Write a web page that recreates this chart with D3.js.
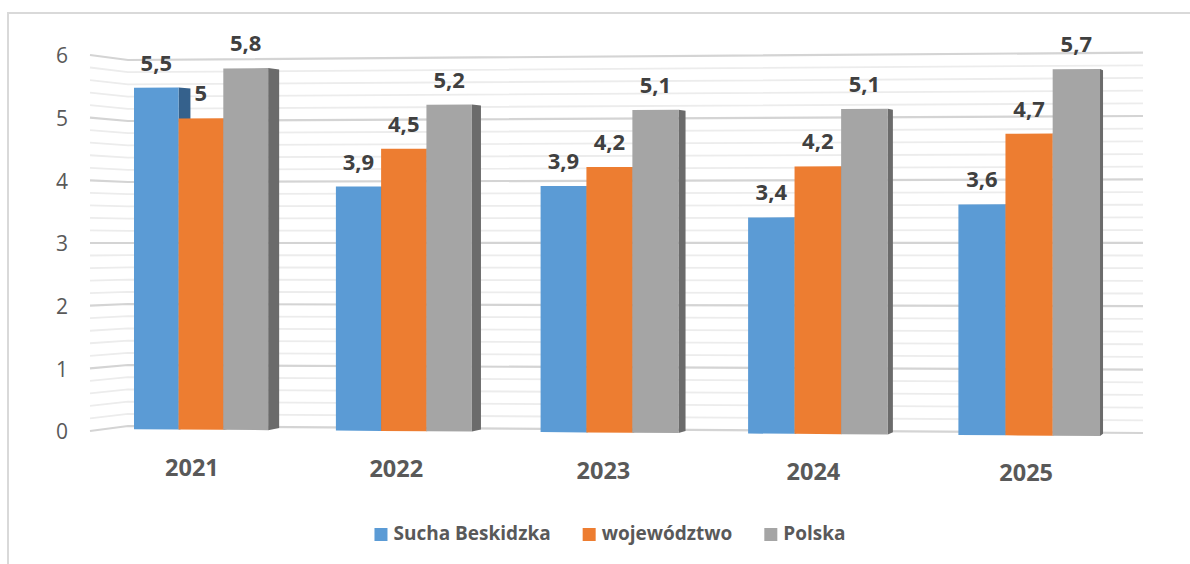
<!DOCTYPE html>
<html><head><meta charset="utf-8">
<script src="https://cdn.jsdelivr.net/npm/d3@7"></script>
<style>
html,body{margin:0;padding:0;background:#fff;}
svg{display:block;font-family:"Open Sans",sans-serif;}
</style></head>
<body><svg id="c" width="1190" height="564"></svg>
<script>
const years = ["2021","2022","2023","2024","2025"];
const seriesNames = ["Sucha Beskidzka","województwo","Polska"];
const suchaValues = [5.5,3.9,3.9,3.4,3.6];
const wojValues = [5,4.5,4.2,4.2,4.7];
const polskaValues = [5.8,5.2,5.1,5.1,5.7];
const yTicks = [0,1,2,3,4,5,6];
const colors = ["#5B9BD5","#ED7D31","#A5A5A5"];
const sideColors = ["#35618C","#A8541E","#6B6B6B"];

const allValues = [suchaValues, wojValues, polskaValues];
const svg = d3.select("#c");

// frame
svg.append("rect").attr("x",8).attr("y",13).attr("width",1250).attr("height",600)
  .attr("fill","none").attr("stroke","#d9d9d9").attr("stroke-width",2);

// scales (world space)
const xBand = d3.scaleBand().domain(years).range([0,5]).paddingInner(0.334).paddingOuter(0.167);
const xSeries = d3.scaleBand().domain(seriesNames).range([0,xBand.bandwidth()]);
const yScale = d3.scaleLinear().domain([0,6]).range([0,6]);

// perspective projection helpers
const px = u => { const w = u - 0.167; return 134 + 200.5*w + 1.4*w*w; };
const frontBase = x => 429.2 + (x-134)*0.007025;
const frontUnit = x => 62.1 + (x-134)*0.002376;
const fy = (v,x) => frontBase(x) - frontUnit(x)*yScale(v);
const VP = [1414, 212], depthT = 0.0096;
const back = p => [p[0] + depthT*(VP[0]-p[0]), p[1] + depthT*(VP[1]-p[1])];

// gridlines
const gridG = svg.append("g");
const minorVals = d3.range(0, 30.5, 1).map(i => i/5);
minorVals.forEach(v => {
  const major = Math.abs(v - Math.round(v)) < 1e-9;
  const pts = [[90, 431 - 62.67*v],[128, 426 - 61*v],[1143, 433 - 63.4*v]];
  gridG.append("path").attr("d", d3.line()(pts)).attr("fill","none")
    .attr("stroke", major ? "#d4d4d4" : "#ececec").attr("stroke-width", major ? 2.2 : 1.8);
});

// y tick labels
svg.append("g").selectAll("text").data(yTicks).join("text")
  .attr("x",62).attr("y",v => 431 - 62.67*v + 1).attr("dy","0.35em")
  .attr("text-anchor","middle").attr("font-size",21).attr("fill","#595959").text(v => v);

// bars
const barsG = svg.append("g");
years.forEach((yr, i) => {
  seriesNames.forEach((s, j) => {
    const v = allValues[j][i];
    const u0 = xBand(yr) + xSeries(s), u1 = u0 + xSeries.bandwidth();
    const x0 = px(u0), x1 = px(u1);
    const tl = [x0, fy(v,x0)], tr = [x1, fy(v,x1)], br = [x1, fy(0,x1)], bl = [x0, fy(0,x0)];
    const side = [tr, back(tr), back(br), br];
    barsG.append("path").attr("d", d3.line()(side) + "Z").attr("fill", sideColors[j]);
    barsG.append("path").attr("d", d3.line()([tl,tr,br,bl]) + "Z").attr("fill", colors[j]);
  });
});

// value labels
const labG = svg.append("g");
years.forEach((yr, i) => {
  seriesNames.forEach((s, j) => {
    const v = allValues[j][i];
    const uc = xBand(yr) + xSeries(s) + xSeries.bandwidth()/2;
    const xc = px(uc);
    labG.append("text").attr("x", xc).attr("y", fy(v,xc) - 17)
      .attr("text-anchor","middle").attr("font-size",22).attr("font-weight","bold")
      .attr("fill","#404040").text(String(v).replace(".", ","));
  });
});

// year labels
svg.append("g").selectAll("text").data(years).join("text")
  .attr("x", d => { const x = px(xBand(d) + xBand.bandwidth()/2); return x - 0.0074*(VP[0]-x); })
  .attr("y", d => { const x = px(xBand(d) + xBand.bandwidth()/2); return frontBase(x) + 46; })
  .attr("text-anchor","middle").attr("font-size",23.5).attr("font-weight","bold")
  .attr("fill","#595959").text(d => d);

// legend
const legG = svg.append("g");
const items = seriesNames.map((s, j) => {
  const g = legG.append("g");
  g.append("rect").attr("width",13).attr("height",13).attr("y",-12).attr("fill",colors[j]);
  const t = g.append("text").attr("x",19).attr("y",0).attr("font-size",19).attr("font-weight","bold")
    .attr("fill","#595959").text(s);
  return {g, w: 19 + t.node().getComputedTextLength()};
});
const gap = 32;
const total = d3.sum(items, d => d.w) + gap*(items.length-1);
let cx = 610 - total/2;
items.forEach(it => { it.g.attr("transform", `translate(${cx},540)`); cx += it.w + gap; });
</script></body></html>
